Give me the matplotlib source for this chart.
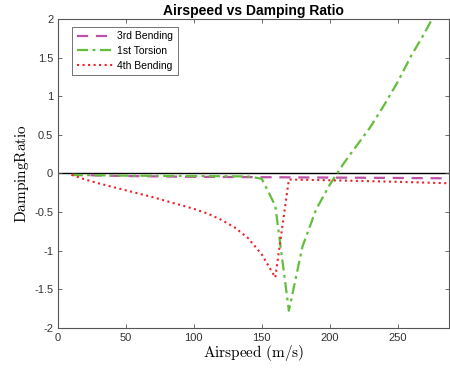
import matplotlib.pyplot as plt
import numpy as np

plt.rcParams['font.family'] = ['Liberation Sans', 'DejaVu Sans']
plt.rcParams['mathtext.fontset'] = 'cm'

# airspeed samples (m/s)
v_bend3 = [10, 50, 100, 150, 200, 250, 290]
zeta_bend3 = [-0.02, -0.035, -0.045, -0.05, -0.055, -0.06, -0.065]

v_tors1 = [10, 50, 100, 140, 150, 160, 170, 180, 190, 200, 210, 220, 230,
           240, 250, 260, 270, 280]
zeta_tors1 = [-0.02, -0.03, -0.035, -0.04, -0.07, -0.42, -1.78, -0.95, -0.47,
              -0.15, 0.12, 0.36, 0.6, 0.88, 1.18, 1.52, 1.82, 2.15]

v_bend4 = [10, 20, 30, 50, 70, 90, 100, 110, 120, 130, 140, 150, 160, 170,
           200, 250, 290]
zeta_bend4 = [-0.02, -0.08, -0.13, -0.22, -0.31, -0.41, -0.46, -0.52, -0.6,
              -0.7, -0.84, -1.05, -1.35, -0.08, -0.09, -0.11, -0.13]

fig = plt.figure(figsize=(4.5, 3.69), dpi=100)
ax = fig.add_axes([0.129, 0.112, 0.869, 0.8365])

ax.axhline(0, color='black', lw=1.0, zorder=1)
ax.plot(v_bend3, zeta_bend3, color='#BF4FA8', lw=1.6, dashes=(5, 3.5),
        label='3rd Bending')
ax.plot(v_tors1, zeta_tors1, color='#63BE3C', lw=1.6, dashes=(5, 2, 1.3, 2),
        label='1st Torsion')
ax.plot(v_bend4, zeta_bend4, color='#F0202A', lw=1.5, linestyle=':',
        label='4th Bending')

ax.set_xlim(0, 288)
ax.set_ylim(-2, 2)
ax.set_xticks(np.arange(0, 251, 50))
ax.set_yticks(np.arange(-2, 2.01, 0.5))
ax.set_yticklabels(['-2', '-1.5', '-1', '-0.5', '0', '0.5', '1', '1.5', '2'])

gray = '#333333'
for s in ax.spines.values():
    s.set_color('#555555')
    s.set_linewidth(0.8)
ax.tick_params(direction='in', length=3, width=0.6, colors='#555555',
               labelcolor=gray, labelsize=8, top=True, right=True)

ax.set_title('Airspeed vs Damping Ratio', fontsize=10, fontweight='bold',
             pad=3)
ax.set_xlabel(r'$\mathrm{Airspeed\ (m/s)}$', fontsize=11, labelpad=0)
ax.set_ylabel(r'$\mathrm{DampingRatio}$', fontsize=11, labelpad=2)

leg = ax.legend(loc='upper left', bbox_to_anchor=(0.036, 0.975),
                fontsize=7.5, frameon=True, fancybox=False,
                edgecolor='#333333', handlelength=3.6, handletextpad=0.3,
                borderpad=0.45, labelspacing=0.45, borderaxespad=0)
leg.get_frame().set_linewidth(0.6)

fig.savefig('out.png', dpi=100)
